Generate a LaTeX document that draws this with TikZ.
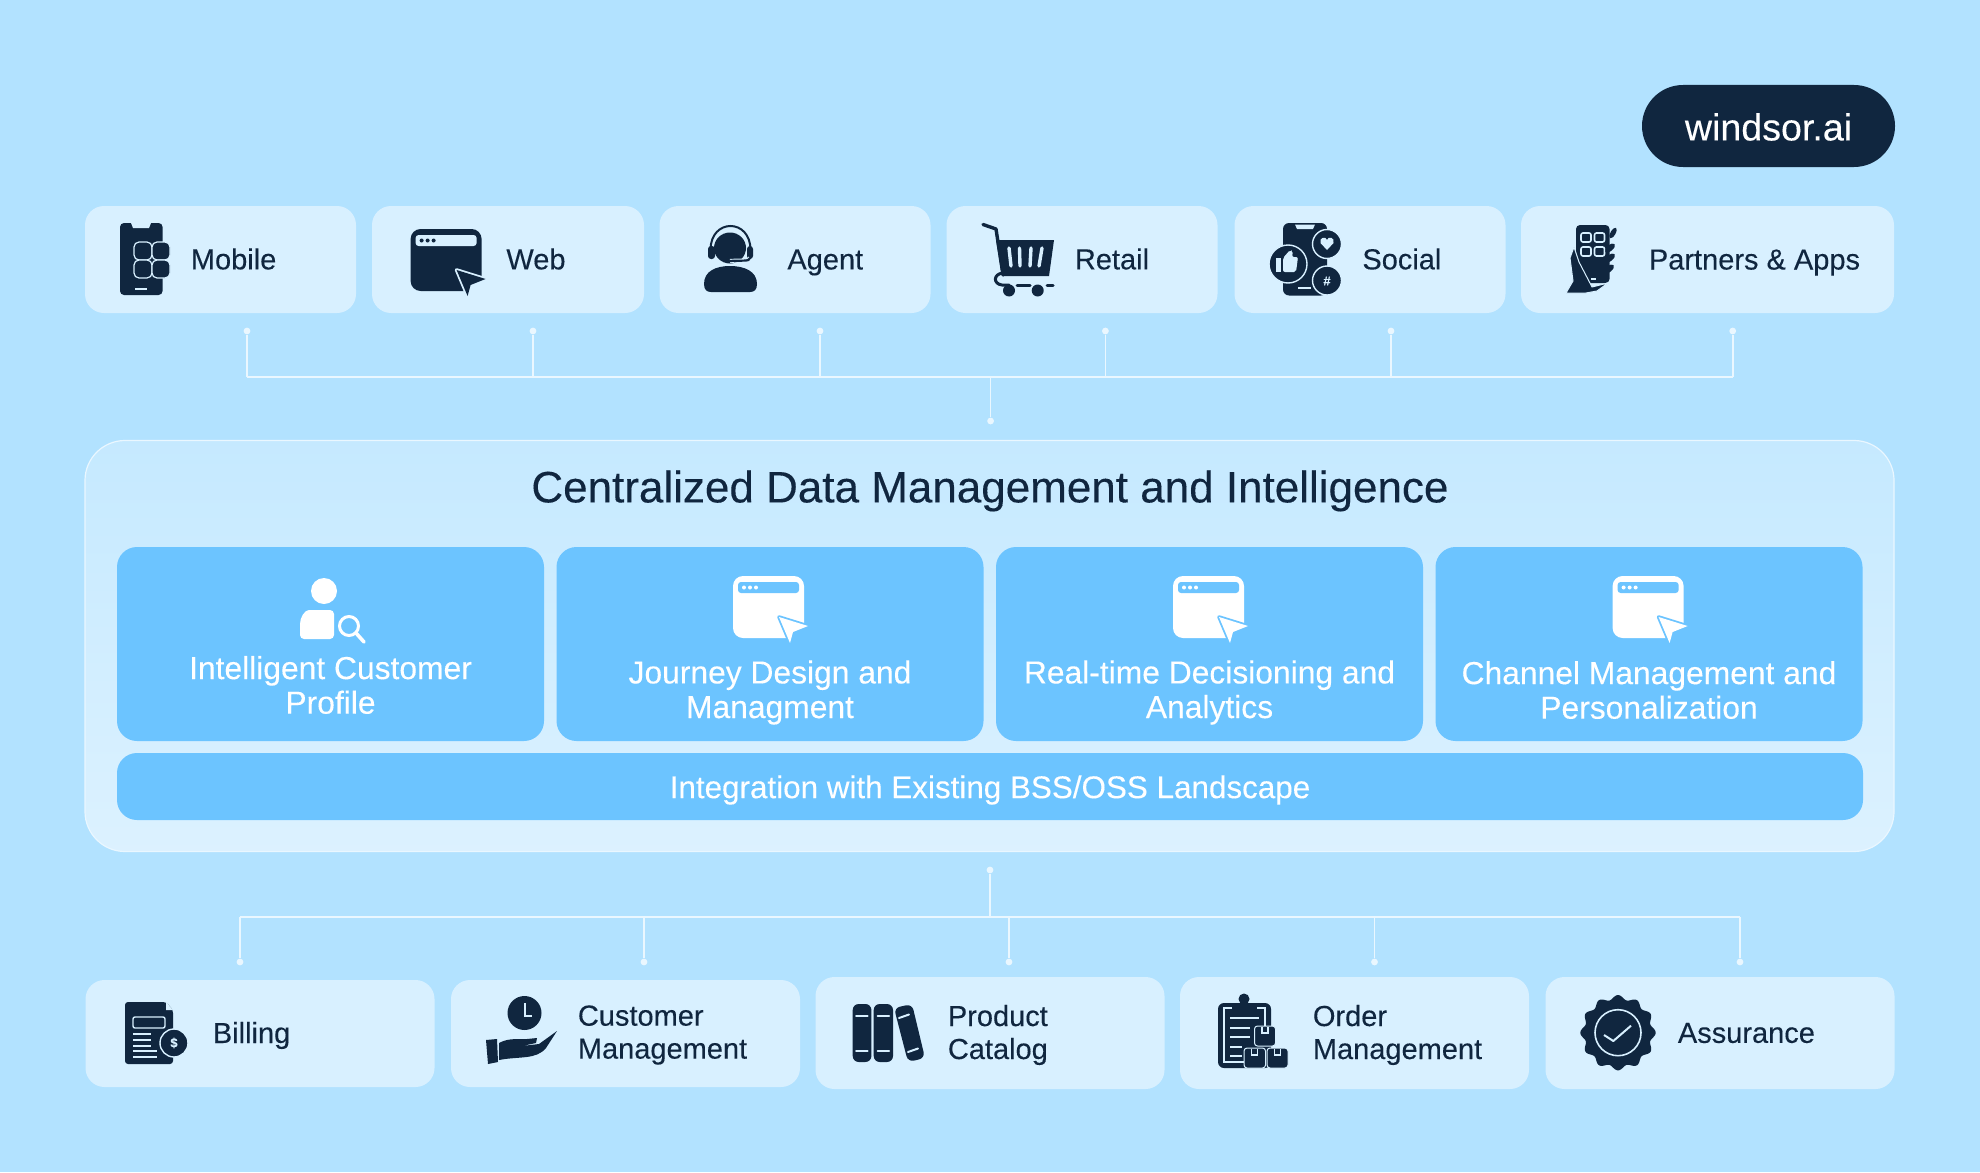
\documentclass[tikz,border=0pt]{standalone}
\usepackage{fontspec}
\setmainfont{Liberation Sans}[FakeBold=0.2]
\definecolor{sky}{HTML}{B2E2FF}
\definecolor{pale}{HTML}{D8F0FF}
\definecolor{ink}{HTML}{10263F}
\definecolor{azure}{HTML}{6CC4FF}
\definecolor{spark}{HTML}{EAF7FF}
\tikzset{
  mainbox/.style={fill=pale, rounded corners=9.5pt, inner sep=0pt, minimum height=53.5pt},
  lowbox/.style={mainbox, minimum width=174.5pt, minimum height=56pt},
  bluebox/.style={fill=azure, rounded corners=10pt, inner sep=0pt, minimum width=213.5pt, minimum height=97pt},
  itemtext/.style={anchor=west, inner sep=0pt, text=ink, font=\fontsize{14.5}{16.5}\selectfont, align=left},
  cardtext/.style={inner sep=0pt, text=white, font=\fontsize{15.9}{17.3}\selectfont, align=center},
  wire/.style={draw=spark, line width=0.8pt},
  tick/.style={circle, fill=spark, inner sep=0pt, minimum size=3.4pt},
  icontext/.style={inner sep=0pt, text=pale, font=\bfseries\fontsize{6.5}{7}\selectfont},
}
% browser window with a pointer, x y of its corner, then body and cut colours
\newcommand{\windowicon}[4]{
  \begin{scope}[shift={(#1,#2)}]
    \fill[#3, rounded corners=5pt] (0,0) rectangle (71,62);
    \fill[#4, rounded corners=1.5pt] (5,6) rectangle (66,17);
    \foreach \dx in {11,17,23} \fill[#3] (\dx,11.5) circle (2);
    \fill[#4] (46,41) -- (76,50) -- (76,68) -- (57,68) -- cycle;
    \draw[#4, line width=1.8pt, line join=round] (46,41) -- (75,50) -- (60,56) -- (57,67) -- cycle;
    \fill[#3, line join=round] (46,41) -- (75,50) -- (60,56) -- (57,67) -- cycle;
  \end{scope}
}
\begin{document}
\begin{tikzpicture}[x=0.5pt, y=-0.5pt]
  \useasboundingbox[fill=sky] (0,0) rectangle (1980,1172);
  \node[fill=ink, rounded corners=20.5pt, minimum width=126.5pt, minimum height=41pt, inner sep=0pt] (brand) at (1768.5,126) {};
  \node[text=white, inner sep=0pt, font=\fontsize{18.8}{20}\selectfont] (brandtxt) at (1768.5,127) {windsor.ai};

  % channels
  \node[mainbox, minimum width=135.5pt] (mobile) at (220.5,259.5) {};
  \node[mainbox, minimum width=136pt] (web) at (508,259.5) {};
  \node[mainbox, minimum width=135.5pt] (agent) at (795,259.5) {};
  \node[mainbox, minimum width=135.5pt] (retail) at (1082,259.5) {};
  \node[mainbox, minimum width=135.5pt] (social) at (1370,259.5) {};
  \node[mainbox, minimum width=186.5pt] (partners) at (1707.5,259.5) {};
  \node[itemtext] (mobiletxt) at (190.5,259) {Mobile};
  \node[itemtext] (webtxt) at (506,259) {Web};
  \node[itemtext] (agenttxt) at (787,262.5) {Agent};
  \node[itemtext] (retailtxt) at (1074.5,259) {Retail};
  \node[itemtext] (socialtxt) at (1362,259) {Social};
  \node[itemtext] (partnerstxt) at (1648.5,262.5) {Partners \& Apps};

  % links from the channels
  \foreach \i/\px in {1/247,2/533,3/820,4/1105.4,5/1391,6/1732.7} {
    \node[tick] (up\i) at (\px,331) {};
    \coordinate (upbus\i) at (\px,377);
    \draw[wire] (up\i) -- (upbus\i);
  }
  \draw[wire] (upbus1) -- (upbus6);
  \node[tick] (upmid) at (990.6,421) {};
  \coordinate (upjoin) at (990.6,377);
  \draw[wire] (upjoin) -- (upmid);

  % central panel
  \node[top color=sky!75!white, bottom color=pale!90!white, draw=spark, line width=0.6pt, rounded corners=20pt, inner sep=0pt, minimum width=904.5pt, minimum height=205.5pt] (panel) at (989.5,646) {};
  \node[text=ink, inner sep=0pt, font=\fontsize{22}{24}\selectfont] (paneltitle) at (990,491) {Centralized Data Management and Intelligence};
  \node[bluebox] (profile) at (330.5,644) {};
  \node[bluebox] (journey) at (770,644) {};
  \node[bluebox] (realtime) at (1209.5,644) {};
  \node[bluebox] (channel) at (1649,644) {};
  \node[bluebox, minimum width=873pt, minimum height=33.5pt] (integration) at (990,786.5) {};
  \node[cardtext] (profiletxt) at (330.5,685) {Intelligent Customer\\Profile};
  \node[cardtext] (journeytxt) at (770,692.5) {Journey Design and\\Managment};
  \node[cardtext] (realtimetxt) at (1209.5,692.5) {Real-time Decisioning and\\Analytics};
  \node[cardtext] (channeltxt) at (1649,690) {Channel Management and\\Personalization};
  \node[cardtext, font=\fontsize{15.7}{17.3}\selectfont] (integrationtxt) at (990,790) {Integration with Existing BSS/OSS Landscape};

  % links to the systems
  \node[tick] (lowmid) at (990,870) {};
  \coordinate (lowjoin) at (990,917);
  \draw[wire] (lowmid) -- (lowjoin);
  \foreach \i/\px in {1/240,2/644,3/1009,4/1374.5,5/1740} {
    \node[tick] (low\i) at (\px,962) {};
    \coordinate (lowbus\i) at (\px,917);
    \draw[wire] (lowbus\i) -- (low\i);
  }
  \draw[wire] (lowbus1) -- (lowbus5);

  % systems
  \node[lowbox, minimum height=53.5pt] (billing) at (260,1033.5) {};
  \node[lowbox, minimum height=53.5pt] (customer) at (625.5,1033.5) {};
  \node[lowbox] (product) at (990,1033) {};
  \node[lowbox] (order) at (1354.5,1033) {};
  \node[lowbox] (assurance) at (1720,1033) {};
  \node[itemtext] (billingtxt) at (212.5,1035.5) {Billing};
  \node[itemtext] (customertxt) at (577.5,1035) {Customer\\Management};
  \node[itemtext] (producttxt) at (947.5,1035) {Product\\Catalog};
  \node[itemtext] (ordertxt) at (1312.5,1035) {Order\\Management};
  \node[itemtext] (assurancetxt) at (1677.5,1033) {Assurance};

  % mobile icon
  \fill[ink, rounded corners=2pt] (120,223) rectangle (162.6,295);
  \fill[pale] (131,223) -- (151,223) -- (149,228) -- (133,228) -- cycle;
  \fill[pale] (135,287.5) rectangle (147,290);
  \foreach \tx/\ty in {134/242,152/242,134/260,152/260}
    \filldraw[fill=ink, draw=pale, line width=0.6pt, rounded corners=2.5pt] (\tx,\ty) rectangle ++(18,18);

  \windowicon{410.6}{229}{ink}{pale}

  % agent icon
  \fill[ink] (704,284) .. controls (704,271) and (716,266) .. (730,266) .. controls (744,266) and (757,271) .. (757,284) .. controls (757,290) and (754,292) .. (750,292) -- (711,292) .. controls (707,292) and (704,290) .. (704,284) -- cycle;
  \fill[ink] (730,248) ellipse (16 and 15.5);
  \draw[ink, line width=1pt] (710.5,250) .. controls (710.5,218) and (750.5,218) .. (750.5,250);
  \fill[ink, rounded corners=1.5pt] (708,246) rectangle (715,259);
  \fill[ink, rounded corners=1.5pt] (747,246) rectangle (753,259);
  \draw[pale, line width=2pt] (750,258) .. controls (750,262) and (740,260) .. (730,261);
  \draw[ink, line width=1.1pt, line cap=round] (750,258) .. controls (750,262) and (740,260) .. (730,261);

  % cart icon
  \draw[ink, line width=1.7pt, line join=round, line cap=round] (983,224.5) -- (996,229) -- (1003,275);
  \fill[ink, line join=round] (996,240) -- (1054,240) -- (1049,276) -- (1002,276) -- cycle;
  \foreach \bx/\by in {1009/1011,1019.5/1020,1031/1030,1042/1039}
    \draw[pale, line width=1.7pt, line cap=round] (\bx,248) -- (\by,266);
  \draw[ink, line width=1.5pt, line cap=round] (1003,273) .. controls (993,274) and (993,284) .. (1002,285) -- (1009,285);
  \draw[ink, line width=1.5pt, line cap=round] (1017,285) -- (1030,285) (1047,285) -- (1053,285);
  \fill[ink] (1009,290.5) circle (6) (1037.7,290.5) circle (6);

  % social icon
  \fill[ink, rounded corners=3pt] (1283,223) rectangle (1327,295.5);
  \fill[pale] (1295,224.5) -- (1315,224.5) -- (1313,229) -- (1297,229) -- cycle;
  \fill[pale] (1298,287) rectangle (1311,288.5);
  \filldraw[fill=ink, draw=pale, line width=0.7pt] (1288,264) circle (19);
  \filldraw[fill=ink, draw=pale, line width=0.7pt] (1327,244) circle (14.5);
  \filldraw[fill=ink, draw=pale, line width=0.7pt] (1327,280.5) circle (14.5);
  \fill[pale] (1276,258) rectangle (1281,272);
  \fill[pale, rounded corners=1pt] (1283,272) -- (1283,258) -- (1290,250) -- (1293,251) -- (1292,257) -- (1298,257) -- (1296,272) -- cycle;
  \fill[pale] (1327,250) -- (1320.5,243) .. controls (1319,237) and (1326,236) .. (1327,240) .. controls (1328,236) and (1335,237) .. (1333.5,243) -- cycle;
  \node[icontext] (hash) at (1327,281) {\#};

  % partners icon
  \fill[ink, rounded corners=2pt] (1576,225) rectangle (1609.5,283);
  \foreach \tx/\ty in {1581/233,1594.5/233,1581/247,1594.5/247}
    \draw[pale, line width=0.8pt, rounded corners=1pt] (\tx,\ty) rectangle ++(10,9);
  \fill[pale] (1591,278) rectangle (1596,279.5);
  \filldraw[fill=ink, draw=pale, line width=0.5pt, line join=round] (1566,293) -- (1573,281) -- (1570,258) -- (1574,247) -- (1579,262) -- (1592,287) -- (1608,283) -- (1597,291) -- (1586,293) -- cycle;
  \fill[ink, rotate around={-30:(1613,233)}] (1613,233) ellipse (2.5 and 6);
  \fill[ink, rotate around={-50:(1610,248)}] (1610,248) ellipse (3 and 6);
  \fill[ink, rotate around={-50:(1610,258)}] (1610,258) ellipse (3 and 6);
  \fill[ink, rotate around={-50:(1609,269)}] (1609,269) ellipse (3 and 6);

  % card icons
  \fill[white] (324,591) ellipse (13 and 13);
  \fill[white, rounded corners=2pt] (300,639) -- (300,628) .. controls (300,617) and (305,610) .. (313,610) -- (334,610) -- (334,639) -- cycle;
  \fill[azure] (349,626) circle (14);
  \draw[white, line width=1.5pt] (349,626) circle (9.5);
  \draw[white, line width=1.8pt, line cap=round] (356,633) -- (364,642);
  \windowicon{733}{576}{white}{azure}
  \windowicon{1173}{576}{white}{azure}
  \windowicon{1612.6}{576}{white}{azure}

  % billing icon
  \fill[ink, rounded corners=1.5pt] (125,1002) -- (166,1002) -- (173,1010) -- (173,1064) -- (125,1064) -- cycle;
  \fill[pale] (166,1002) -- (173,1010) -- (166,1010) -- cycle;
  \draw[pale, line width=0.7pt, rounded corners=1pt] (133,1017) rectangle (165,1028);
  \foreach \ly/\lx in {1034/151,1040/151,1046/151,1051/157,1057/157}
    \draw[pale, line width=0.8pt] (133,\ly) -- (\lx,\ly);
  \filldraw[fill=ink, draw=pale, line width=0.7pt] (174,1043) circle (14);
  \node[icontext] (dollar) at (174,1043) {\$};

  % customer icon
  \fill[ink] (524.5,1013) circle (17);
  \draw[pale, line width=0.8pt] (525,1003) -- (525,1016) -- (532,1016);
  \fill[ink] (486,1040) -- (497,1039) -- (498,1062) -- (488,1064) -- cycle;
  \fill[ink, line join=round] (499,1043) .. controls (510,1037) and (520,1040) .. (527,1039) -- (537,1038) -- (536,1043) -- (522,1046) -- (539,1044) -- (557,1031) -- (546,1048) .. controls (536,1060) and (520,1056) .. (499,1060) -- cycle;

  % book icon
  \fill[ink, rounded corners=3pt] (852.7,1004) rectangle (871.4,1062);
  \fill[ink, rounded corners=3pt] (873.7,1004) rectangle (893,1062);
  \fill[ink, rounded corners=3pt] (894,1008) -- (912,1004) -- (925,1058) -- (908,1062) -- cycle;
  \foreach \bx in {856,877.5} {
    \draw[pale, line width=1pt, line cap=round] (\bx,1015.5) -- ++(11.5,0);
    \draw[pale, line width=1pt, line cap=round] (\bx,1051) -- ++(11.5,0);
  }
  \draw[pale, line width=1pt, line cap=round] (899,1018) -- (909,1014.5);
  \draw[pale, line width=1pt, line cap=round] (908,1052) -- (918,1048.5);

  % order icon
  \fill[ink, rounded corners=3pt] (1218,1003) rectangle (1271,1068);
  \fill[ink] (1244,999) circle (5.5);
  \draw[pale, line width=0.7pt] (1236,1008) -- (1224,1008) -- (1224,1062) -- (1246,1062);
  \draw[pale, line width=0.7pt] (1253,1008) -- (1265,1008) -- (1265,1026);
  \fill[ink] (1232,1003) rectangle (1257,1013);
  \foreach \ly/\lx in {1018/1259,1028/1250,1037/1250,1047/1242,1056/1242}
    \draw[pale, line width=0.7pt] (1230,\ly) -- (\lx,\ly);
  \foreach \bx/\by/\bw in {1254.5/1026/21,1244/1048/21.5,1267/1048/21} {
    \filldraw[fill=ink, draw=pale, line width=0.5pt, rounded corners=1.5pt] (\bx,\by) rectangle ++(\bw,20);
    \draw[pale, line width=0.6pt] (\bx+\bw/2-3,\by+1) -- ++(0,6) -- ++(6,0) -- ++(0,-6);
  }

  % badge icon
  \fill[ink] plot[domain=0:360, samples=145, smooth] ({1618+(35.5+2.2*cos(12*\x))*cos(\x)}, {1032.7+(35.5+2.2*cos(12*\x))*sin(\x)}) -- cycle;
  \draw[pale, line width=0.8pt] (1618,1032.7) circle (23);
  \draw[pale, line width=1pt, line join=round] (1604,1035) -- (1613.3,1041) -- (1631,1025.7);
\end{tikzpicture}
\end{document}
